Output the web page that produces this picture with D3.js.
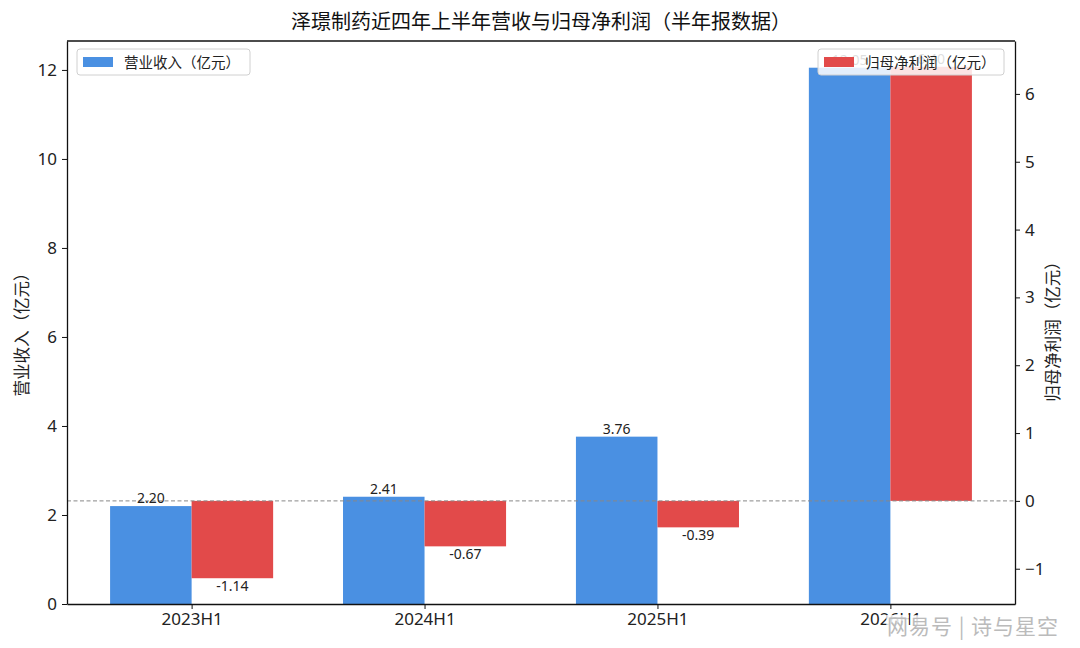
<!DOCTYPE html>
<html>
<head>
<meta charset="utf-8">
<script src="https://cdn.jsdelivr.net/npm/d3@7"></script>
<style>
  body { margin: 0; background: #fff; }
  text { font-family: "Noto Sans", "Noto Sans CJK SC", sans-serif; }
</style>
</head>
<body>
<div id="chart"></div>
<script>
// 泽璟制药 半年报：营收 + 归母净利润（双轴柱状图）
const categories = ['2023H1', '2024H1', '2025H1', '2026H1'];
const revenue = [2.20, 2.41, 3.76, 12.05];
const netProfit = [-1.14, -0.67, -0.39, 6.40];
const leftTicks = [0, 2, 4, 6, 8, 10, 12];
const rightTicks = [-1, 0, 1, 2, 3, 4, 5, 6];

const W = 1080, H = 648;
const margin = { top: 41, right: 65, bottom: 44, left: 67 };
const width = W - margin.left - margin.right;
const height = H - margin.top - margin.bottom;
const barW = 0.35;
const blue = '#4a90e2', red = '#e24a4a';

const svg = d3.select('#chart').append('svg')
    .attr('width', W).attr('height', H);
const g = svg.append('g').attr('transform', `translate(${margin.left},${margin.top})`);

// scales
const x = d3.scaleLinear().domain([-0.535, categories.length - 1 + 0.535]).range([0, width]);
const yL = d3.scaleLinear().domain([0, 12.65]).range([height, 0]);
const yR = d3.scaleLinear().domain([-1.52, 6.78]).range([height, 0]);

// revenue bars (left axis)
g.selectAll('.rev').data(revenue).enter().append('rect')
    .attr('class', 'rev')
    .attr('x', (d, i) => x(i - barW))
    .attr('width', x(barW) - x(0))
    .attr('y', d => yL(d))
    .attr('height', d => yL(0) - yL(d))
    .attr('fill', blue);

// profit bars (right axis)
g.selectAll('.np').data(netProfit).enter().append('rect')
    .attr('class', 'np')
    .attr('x', (d, i) => x(i))
    .attr('width', x(barW) - x(0))
    .attr('y', d => yR(Math.max(0, d)))
    .attr('height', d => Math.abs(yR(0) - yR(d)))
    .attr('fill', red);

// zero line for profit
g.append('line')
    .attr('x1', 0).attr('x2', width)
    .attr('y1', yR(0)).attr('y2', yR(0))
    .attr('stroke', '#888').attr('stroke-width', 1)
    .attr('stroke-dasharray', '4,2.5');

// value labels
g.selectAll('.revlab').data(revenue).enter().append('text')
    .attr('x', (d, i) => x(i - barW / 2))
    .attr('y', d => yL(d) - 3)
    .attr('text-anchor', 'middle')
    .style('font-size', '14px').style('fill', '#222')
    .text(d => d.toFixed(2));

g.selectAll('.nplab').data(netProfit).enter().append('text')
    .attr('x', (d, i) => x(i + barW / 2))
    .attr('y', d => d < 0 ? yR(d) + 13 : yR(d) - 3)
    .attr('text-anchor', 'middle')
    .style('font-size', '14px').style('fill', '#222')
    .text(d => d.toFixed(2));

// axes
const styleAxis = sel => {
    sel.select('.domain').attr('stroke', '#111').attr('stroke-width', 1.3);
    sel.selectAll('.tick line').attr('stroke', '#111');
    sel.selectAll('.tick text').style('font-size', '17px').style('fill', '#222')
        .style('font-family', '"Noto Sans", "Noto Sans CJK SC", sans-serif');
};

g.append('g').attr('transform', `translate(0,${height})`)
    .call(d3.axisBottom(x).tickValues(d3.range(categories.length))
        .tickFormat(i => categories[i]).tickSize(5).tickPadding(4).tickSizeOuter(0))
    .call(styleAxis);

g.append('g')
    .call(d3.axisLeft(yL).tickValues(leftTicks).tickSize(5).tickPadding(5).tickSizeOuter(0))
    .call(styleAxis);

g.append('g').attr('transform', `translate(${width},0)`)
    .call(d3.axisRight(yR).tickValues(rightTicks).tickSize(5).tickPadding(5).tickSizeOuter(0))
    .call(styleAxis);

// top spine
g.append('line').attr('x1', 0).attr('x2', width).attr('y1', 0).attr('y2', 0)
    .attr('stroke', '#111').attr('stroke-width', 1.3);

// axis titles
svg.append('text')
    .attr('transform', `translate(28,${margin.top + height / 2 + 8}) rotate(-90)`)
    .attr('text-anchor', 'middle')
    .style('font-family', '"Noto Sans CJK SC", sans-serif')
    .style('font-size', '16.5px').style('fill', '#222')
    .text('营业收入（亿元）');

svg.append('text')
    .attr('transform', `translate(1059,${margin.top + height / 2 + 5}) rotate(-90)`)
    .attr('text-anchor', 'middle')
    .style('font-family', '"Noto Sans CJK SC", sans-serif')
    .style('font-size', '16.5px').style('fill', '#222')
    .text('归母净利润（亿元）');

// title
svg.append('text')
    .attr('x', margin.left + width / 2).attr('y', 29)
    .attr('text-anchor', 'middle')
    .style('font-family', '"Noto Sans CJK SC", sans-serif')
    .style('font-size', '20px').style('fill', '#111')
    .text('泽璟制药近四年上半年营收与归母净利润（半年报数据）');

// legends
function legend(x0, y0, w, color, label) {
    const lg = svg.append('g').attr('transform', `translate(${x0},${y0})`);
    lg.append('rect').attr('width', w).attr('height', 26).attr('rx', 3)
        .attr('fill', 'rgba(255,255,255,0.85)').attr('stroke', '#d0d0d0');
    lg.append('rect').attr('x', 6).attr('y', 8).attr('width', 30).attr('height', 10)
        .attr('fill', color);
    lg.append('text').attr('x', 47).attr('y', 18.5)
        .style('font-family', '"Noto Sans CJK SC", sans-serif')
        .style('font-size', '14.5px').style('fill', '#222').text(label);
}
legend(77, 49, 173, blue, '营业收入（亿元）');
legend(818, 49, 186, red, '归母净利润（亿元）');

// watermark
svg.append('text')
    .attr('x', 887).attr('y', 634)
    .style('font-family', '"Noto Sans CJK SC", sans-serif')
    .style('font-size', '21px').style('fill', '#bbbbbb')
    .style('letter-spacing', '1px')
    .attr('stroke', 'rgba(255,255,255,0.85)').attr('stroke-width', 5)
    .style('paint-order', 'stroke')
    .text('网易号 | 诗与星空');
</script>
</body>
</html>
